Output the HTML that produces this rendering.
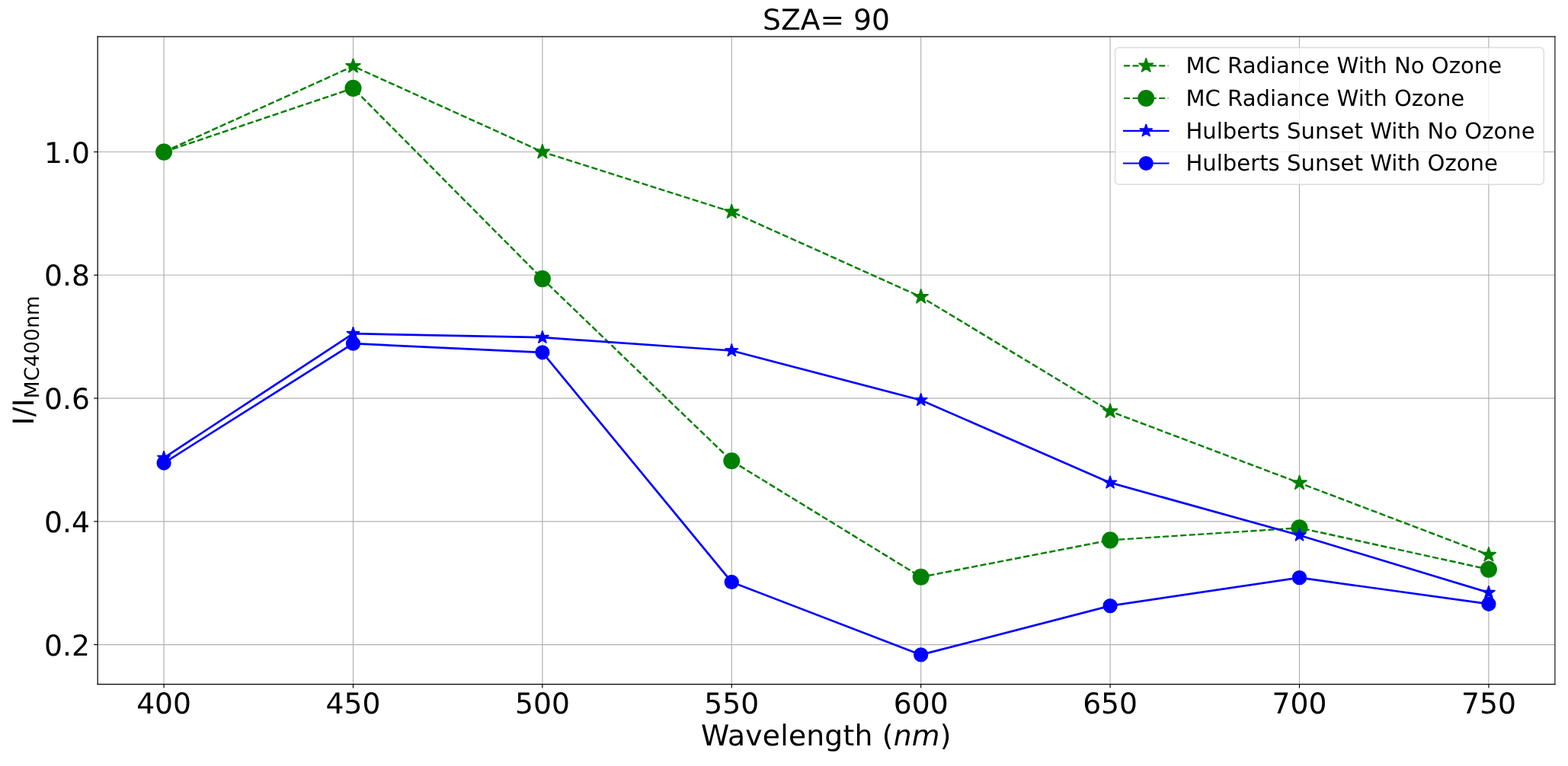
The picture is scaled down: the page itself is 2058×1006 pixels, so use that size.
<!DOCTYPE html>
<html lang="en"><head><meta charset="utf-8"><title>SZA= 90</title>
<style>
html,body{margin:0;padding:0;background:#fff;}
body{width:2058px;height:1006px;overflow:hidden;}
svg{display:block;}
text{font-family:"DejaVu Sans", "Liberation Sans", sans-serif;fill:#000;text-rendering:geometricPrecision;}
.g{stroke:#b0b0b0;stroke-width:1.17;fill:none;}
.s{stroke:#000;fill:none;stroke-linecap:square;}
.t{stroke:#000;stroke-width:1.17;fill:none;}
.lg{stroke:#008000;stroke-width:2.19;fill:none;stroke-dasharray:8.06 3.49;stroke-linejoin:round;}
.lb{stroke:#0000ff;stroke-width:2.19;fill:none;stroke-linejoin:round;stroke-linecap:square;}
.pg{stroke:#008000;stroke-width:2.45;fill:none;stroke-dasharray:8.16 3.407;stroke-linejoin:round;}
.pb{stroke:#0000ff;stroke-width:2.7;fill:none;stroke-linejoin:round;stroke-linecap:square;}
.mg{fill:#008000;stroke:#008000;stroke-width:1.46;stroke-linejoin:bevel;}
.mb{fill:#0000ff;stroke:#0000ff;stroke-width:1.46;stroke-linejoin:bevel;}
.tk{font-size:37.7px;}
.lt{font-size:29.12px;}
</style></head><body>
<svg width="2058" height="1006" viewBox="0 0 2058 1006">
<rect x="0" y="0" width="2058" height="1006" fill="#ffffff"/>
<g class="g">
<line x1="215.1" y1="48.3" x2="215.1" y2="898.5"/>
<line x1="463.5" y1="48.3" x2="463.5" y2="898.5"/>
<line x1="711.9" y1="48.3" x2="711.9" y2="898.5"/>
<line x1="960.3" y1="48.3" x2="960.3" y2="898.5"/>
<line x1="1208.7" y1="48.3" x2="1208.7" y2="898.5"/>
<line x1="1457.1" y1="48.3" x2="1457.1" y2="898.5"/>
<line x1="1705.5" y1="48.3" x2="1705.5" y2="898.5"/>
<line x1="1953.9" y1="48.3" x2="1953.9" y2="898.5"/>
<line x1="128.3" y1="846.6" x2="2040.8" y2="846.6"/>
<line x1="128.3" y1="684.83" x2="2040.8" y2="684.83"/>
<line x1="128.3" y1="523.05" x2="2040.8" y2="523.05"/>
<line x1="128.3" y1="361.27" x2="2040.8" y2="361.27"/>
<line x1="128.3" y1="199.5" x2="2040.8" y2="199.5"/>
</g>
<polyline class="pg" points="215.1,199.5 463.5,86.95 711.9,199.5 960.3,278.2 1208.7,389.8 1457.1,540.2 1705.5,634.25 1953.9,728.7"/>
<path class="mg" d="M215.10 189.20 L212.79 196.32 L205.30 196.32 L211.36 200.72 L209.05 207.83 L215.10 203.43 L221.15 207.83 L218.84 200.72 L224.90 196.32 L217.41 196.32 Z M463.50 76.65 L461.19 83.77 L453.70 83.77 L459.76 88.17 L457.45 95.28 L463.50 90.88 L469.55 95.28 L467.24 88.17 L473.30 83.77 L465.81 83.77 Z M711.90 189.20 L709.59 196.32 L702.10 196.32 L708.16 200.72 L705.85 207.83 L711.90 203.43 L717.95 207.83 L715.64 200.72 L721.70 196.32 L714.21 196.32 Z M960.30 267.90 L957.99 275.02 L950.50 275.02 L956.56 279.42 L954.25 286.53 L960.30 282.13 L966.35 286.53 L964.04 279.42 L970.10 275.02 L962.61 275.02 Z M1208.70 379.50 L1206.39 386.62 L1198.90 386.62 L1204.96 391.02 L1202.65 398.13 L1208.70 393.73 L1214.75 398.13 L1212.44 391.02 L1218.50 386.62 L1211.01 386.62 Z M1457.10 529.90 L1454.79 537.02 L1447.30 537.02 L1453.36 541.42 L1451.05 548.53 L1457.10 544.13 L1463.15 548.53 L1460.84 541.42 L1466.90 537.02 L1459.41 537.02 Z M1705.50 623.95 L1703.19 631.07 L1695.70 631.07 L1701.76 635.47 L1699.45 642.58 L1705.50 638.18 L1711.55 642.58 L1709.24 635.47 L1715.30 631.07 L1707.81 631.07 Z M1953.90 718.40 L1951.59 725.52 L1944.10 725.52 L1950.16 729.92 L1947.85 737.03 L1953.90 732.63 L1959.95 737.03 L1957.64 729.92 L1963.70 725.52 L1956.21 725.52 Z"/>
<polyline class="pg" points="215.1,199.6 463.5,115.9 711.9,366.1 960.3,605.3 1208.7,757.8 1457.1,709.35 1705.5,693.25 1953.9,747.8"/>
<g class="mg">
<circle cx="215.1" cy="199.6" r="10.3"/>
<circle cx="463.5" cy="115.9" r="10.3"/>
<circle cx="711.9" cy="366.1" r="10.3"/>
<circle cx="960.3" cy="605.3" r="10.3"/>
<circle cx="1208.7" cy="757.8" r="10.3"/>
<circle cx="1457.1" cy="709.35" r="10.3"/>
<circle cx="1705.5" cy="693.25" r="10.3"/>
<circle cx="1953.9" cy="747.8" r="10.3"/>
</g>
<polyline class="pb" points="215.1,601.3 463.5,438.2 711.9,443.2 960.3,460.5 1208.7,525.5 1457.1,633.9 1705.5,703 1953.9,778.25"/>
<path class="mb" d="M215.10 592.30 L213.08 598.52 L206.54 598.52 L211.83 602.36 L209.81 608.58 L215.10 604.74 L220.39 608.58 L218.37 602.36 L223.66 598.52 L217.12 598.52 Z M463.50 429.20 L461.48 435.42 L454.94 435.42 L460.23 439.26 L458.21 445.48 L463.50 441.64 L468.79 445.48 L466.77 439.26 L472.06 435.42 L465.52 435.42 Z M711.90 434.20 L709.88 440.42 L703.34 440.42 L708.63 444.26 L706.61 450.48 L711.90 446.64 L717.19 450.48 L715.17 444.26 L720.46 440.42 L713.92 440.42 Z M960.30 451.50 L958.28 457.72 L951.74 457.72 L957.03 461.56 L955.01 467.78 L960.30 463.94 L965.59 467.78 L963.57 461.56 L968.86 457.72 L962.32 457.72 Z M1208.70 516.50 L1206.68 522.72 L1200.14 522.72 L1205.43 526.56 L1203.41 532.78 L1208.70 528.94 L1213.99 532.78 L1211.97 526.56 L1217.26 522.72 L1210.72 522.72 Z M1457.10 624.90 L1455.08 631.12 L1448.54 631.12 L1453.83 634.96 L1451.81 641.18 L1457.10 637.34 L1462.39 641.18 L1460.37 634.96 L1465.66 631.12 L1459.12 631.12 Z M1705.50 694.00 L1703.48 700.22 L1696.94 700.22 L1702.23 704.06 L1700.21 710.28 L1705.50 706.44 L1710.79 710.28 L1708.77 704.06 L1714.06 700.22 L1707.52 700.22 Z M1953.90 769.25 L1951.88 775.47 L1945.34 775.47 L1950.63 779.31 L1948.61 785.53 L1953.90 781.69 L1959.19 785.53 L1957.17 779.31 L1962.46 775.47 L1955.92 775.47 Z"/>
<polyline class="pb" points="215.1,608.05 463.5,451.2 711.9,462.8 960.3,764.45 1208.7,859.9 1457.1,795.65 1705.5,758.65 1953.9,793.25"/>
<g class="mb">
<circle cx="215.1" cy="608.05" r="8.9"/>
<circle cx="463.5" cy="451.2" r="8.9"/>
<circle cx="711.9" cy="462.8" r="8.9"/>
<circle cx="960.3" cy="764.45" r="8.9"/>
<circle cx="1208.7" cy="859.9" r="8.9"/>
<circle cx="1457.1" cy="795.65" r="8.9"/>
<circle cx="1705.5" cy="758.65" r="8.9"/>
<circle cx="1953.9" cy="793.25" r="8.9"/>
</g>
<g class="t">
<line x1="215.1" y1="898.5" x2="215.1" y2="903.61"/>
<line x1="463.5" y1="898.5" x2="463.5" y2="903.61"/>
<line x1="711.9" y1="898.5" x2="711.9" y2="903.61"/>
<line x1="960.3" y1="898.5" x2="960.3" y2="903.61"/>
<line x1="1208.7" y1="898.5" x2="1208.7" y2="903.61"/>
<line x1="1457.1" y1="898.5" x2="1457.1" y2="903.61"/>
<line x1="1705.5" y1="898.5" x2="1705.5" y2="903.61"/>
<line x1="1953.9" y1="898.5" x2="1953.9" y2="903.61"/>
<line x1="123.19" y1="846.6" x2="128.3" y2="846.6"/>
<line x1="123.19" y1="684.83" x2="128.3" y2="684.83"/>
<line x1="123.19" y1="523.05" x2="128.3" y2="523.05"/>
<line x1="123.19" y1="361.27" x2="128.3" y2="361.27"/>
<line x1="123.19" y1="199.5" x2="128.3" y2="199.5"/>
</g>
<g class="s">
<line x1="128.2" y1="48.2" x2="128.2" y2="898.65" stroke-width="1.25"/>
<line x1="2040.9" y1="48.2" x2="2040.9" y2="898.65" stroke-width="1.1"/>
<line x1="128.2" y1="48.2" x2="2040.9" y2="48.2" stroke-width="1.25"/>
<line x1="128.2" y1="898.65" x2="2040.9" y2="898.65" stroke-width="1.2"/>
</g>
<text class="tk" text-anchor="middle" transform="translate(215.1 937)">400</text>
<text class="tk" text-anchor="middle" transform="translate(463.5 937)">450</text>
<text class="tk" text-anchor="middle" transform="translate(711.9 937)">500</text>
<text class="tk" text-anchor="middle" transform="translate(960.3 937)">550</text>
<text class="tk" text-anchor="middle" transform="translate(1208.7 937)">600</text>
<text class="tk" text-anchor="middle" transform="translate(1457.1 937)">650</text>
<text class="tk" text-anchor="middle" transform="translate(1705.5 937)">700</text>
<text class="tk" text-anchor="middle" transform="translate(1953.9 937)">750</text>
<text class="tk" text-anchor="end" transform="translate(118 860.8)">0.2</text>
<text class="tk" text-anchor="end" transform="translate(118 699.03)">0.4</text>
<text class="tk" text-anchor="end" transform="translate(118 537.25)">0.6</text>
<text class="tk" text-anchor="end" transform="translate(118 375.47)">0.8</text>
<text class="tk" text-anchor="end" transform="translate(118 213.7)">1.0</text>
<text class="tk" text-anchor="middle" transform="translate(1084.55 38.7)">SZA= 90</text>
<text class="tk" text-anchor="middle" transform="translate(1084.25 979.4)" letter-spacing="0.2">Wavelength (<tspan font-style="italic">nm</tspan>)</text>
<text class="tk" text-anchor="middle" transform="translate(44.1 473.4) rotate(-90)" letter-spacing="0.12">I/I<tspan dy="7.2" font-size="26.4px">MC400nm</tspan></text>
<rect x="1463.6" y="62.6" width="562.7" height="179.7" rx="5" ry="5" fill="#ffffff" fill-opacity="0.8" stroke="#cccccc" stroke-opacity="0.7" stroke-width="1.46"/>
<line class="lg" x1="1475" y1="86.3" x2="1533.44" y2="86.3"/>
<path class="mg" d="M1504.22 76.20 L1501.95 83.18 L1494.61 83.18 L1500.55 87.49 L1498.28 94.47 L1504.22 90.16 L1510.16 94.47 L1507.89 87.49 L1513.83 83.18 L1506.49 83.18 Z"/>
<text class="lt" text-anchor="start" transform="translate(1556.4 96)">MC Radiance With No Ozone</text>
<line class="lg" x1="1475" y1="129" x2="1533.44" y2="129"/>
<circle class="mg" cx="1504.22" cy="129" r="10.25"/>
<text class="lt" text-anchor="start" transform="translate(1556.4 138.7)">MC Radiance With Ozone</text>
<line class="lb" x1="1475" y1="171.8" x2="1533.44" y2="171.8"/>
<path class="mb" d="M1504.22 163.00 L1502.24 169.08 L1495.85 169.08 L1501.02 172.84 L1499.05 178.92 L1504.22 175.16 L1509.39 178.92 L1507.42 172.84 L1512.59 169.08 L1506.20 169.08 Z"/>
<text class="lt" text-anchor="start" transform="translate(1556.4 181.5)">Hulberts Sunset With No Ozone</text>
<line class="lb" x1="1475" y1="214.5" x2="1533.44" y2="214.5"/>
<circle class="mb" cx="1504.22" cy="214.5" r="8.85"/>
<text class="lt" text-anchor="start" transform="translate(1556.4 224.2)">Hulberts Sunset With Ozone</text>
</svg>
</body></html>
